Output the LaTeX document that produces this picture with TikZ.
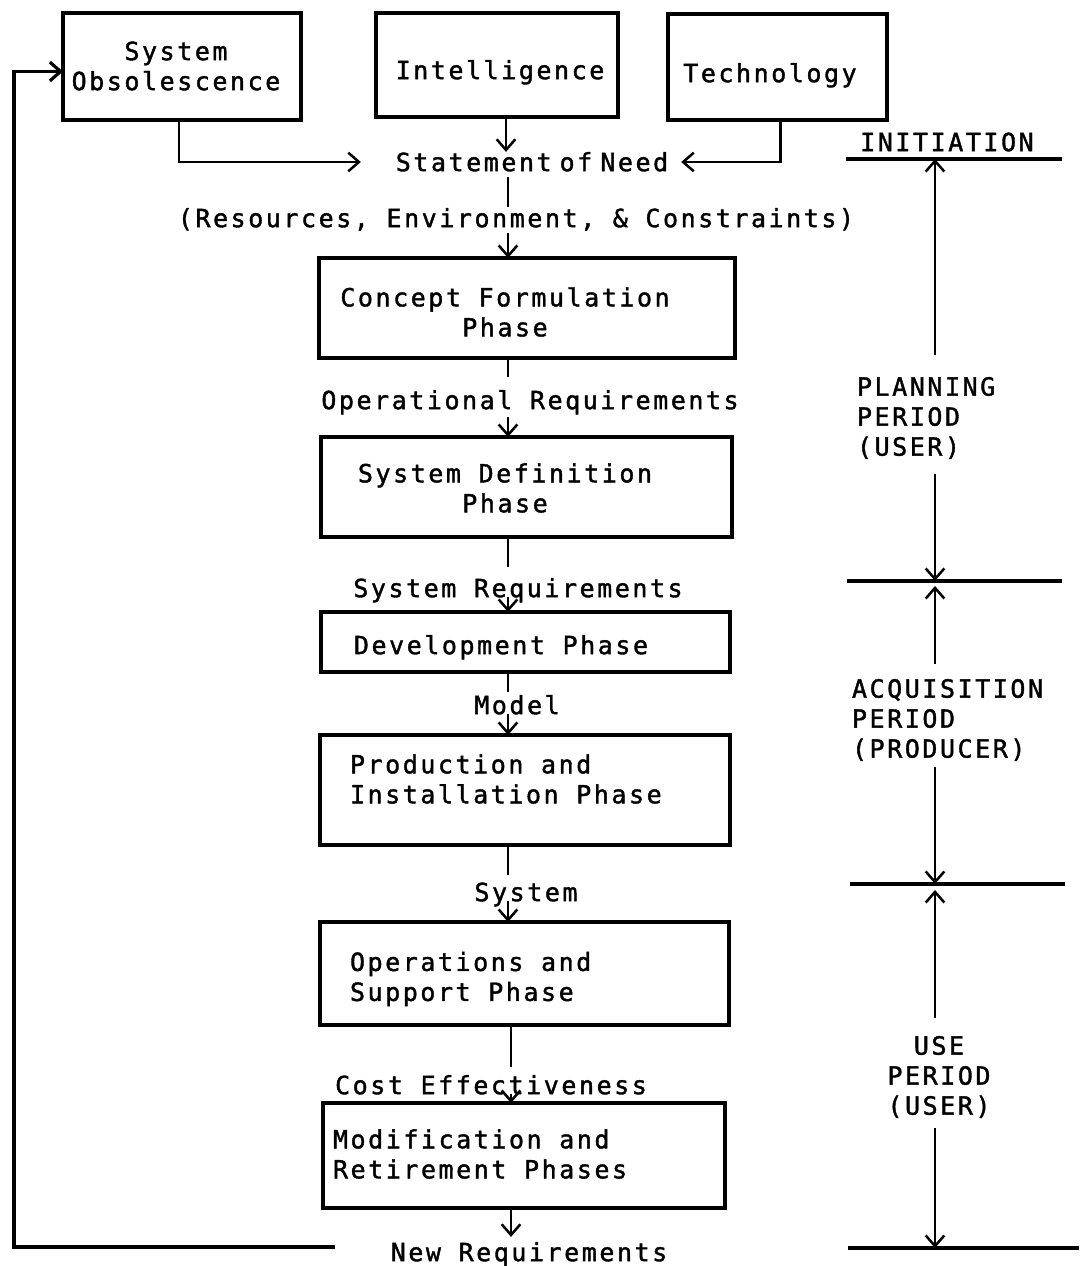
\documentclass[tikz,border=0pt]{standalone}
\usepackage{fontspec}
\newfontfamily\tw[LetterSpace=10.2,FakeBold=1.5]{DejaVu Sans Mono}
\usetikzlibrary{arrows.meta,calc}
\begin{document}
\begin{tikzpicture}[x=0.75pt,y=-0.75pt,
  every node/.style={inner sep=0pt, outer sep=0pt},
  lbl/.style={font=\tw\fontsize{18.75}{22.5}\selectfont},
  one/.style={lbl, text height=13.7pt, text depth=0pt},
  panel/.style={draw, line width=2.5pt, anchor=north west},
  psize/.style 2 args={minimum width=#1*0.75pt, minimum height=#2*0.75pt},
  wire/.style={line width=1.9pt},
  arr/.style={wire, -{Straight Barb[length=8pt,width=14pt]}},
  bar/.style={line width=2.4pt}]
\useasboundingbox (0,0) rectangle (1079,1266);

% sources of the need
\node[panel, psize={238}{107}] (obs) at (63,13) {};
\node[lbl, align=center] (obst) at (176,66) {System\\Obsolescence};
\node[panel, psize={242}{104}] (intel) at (376,13) {};
\node[one] (intt) at (500,70) {Intelligence};
\node[panel, psize={219}{106}] (tec) at (668,14) {};
\node[one] (tect) at (770,73) {Technology};

\node[one] (son) at (532,162) {Statement\kern6pt of\kern6pt Need};
\node[one] (res) at (516,218) {(Resources, Environment, \& Constraints)};

% phases
\node[panel, psize={416}{100}] (cf) at (319,258) {};
\node[lbl, align=center] (cft) at (505,312) {Concept Formulation\\Phase};
\node[one] (opr) at (530,400) {Operational Requirements};
\node[panel, psize={411}{100}] (sd) at (321,437) {};
\node[lbl, align=center] (sdt) at (505,488) {System Definition\\Phase};
\node[one] (sreq) at (518,588) {System Requirements};
\node[panel, psize={409}{60}] (dev) at (321,612) {};
\node[one] (devt) at (501,645) {Development Phase};
\node[one] (mdl) at (517,705) {Model};
\node[panel, psize={410}{110}] (prod) at (320,735) {};
\node[lbl, align=left, anchor=west] (prodt) at (350,779) {Production and\\Installation Phase};
\node[one] (sys) at (526,892) {System};
\node[panel, psize={409}{103}] (ops) at (320,922) {};
\node[lbl, align=left, anchor=west] (opst) at (350,979) {Operations and\\Support Phase};
\node[one] (cost) at (491,1085) {Cost Effectiveness};
\node[panel, psize={402}{105}] (mod) at (323,1103) {};
\node[lbl, align=left, anchor=west] (modt) at (333,1154) {Modification and\\Retirement Phases};
\node[one] (newr) at (529,1252) {New Requirements};

% inputs to the statement of need
\coordinate (col) at (508,0);
\coordinate (colb) at (511,0);
\coordinate (intx) at (506,0);
\draw[arr] ($(obs.south)+(-3,0)$) |- ($(son.west)+(-35,0)$);
\draw[arr] ($(tec.south)+(3,0)$) |- ($(son.east)+(13,0)$);
\draw[arr] (intel.south -| intx) -- ($(son.north -| intx)+(0,-1)$);

% flow down the phases
\draw[wire] ($(son.south -| col)+(0,6)$) -- ++(0,30);
\draw[arr] ($(res.south -| col)+(0,6)$) -- (cf.north -| col);
\draw[wire] (cf.south -| col) -- ++(0,19);
\draw[arr] ($(opr.south -| col)+(0,8)$) -- (sd.north -| col);
\draw[wire] (sd.south -| col) -- ++(0,30);
\draw[arr] (sreq.south -| col) -- (dev.north -| col);
\draw[wire] (dev.south -| col) -- ++(0,20);
\draw[arr] (mdl.south -| col) -- (prod.north -| col);
\draw[wire] (prod.south -| col) -- ++(0,30);
\draw[arr] (sys.south -| col) -- (ops.north -| col);
\draw[wire] (ops.south -| colb) -- ++(0,42);
\draw[arr] (cost.south -| colb) -- (mod.north -| colb);
\draw[arr] (mod.south -| colb) -- ($(newr.north -| colb)+(0,-6)$);

% feedback loop to obsolescence
\coordinate (back) at (335,1247);
\draw[arr, line width=2.4pt] (back) -- ++(-321,0) |- ($(obs.west)+(0,5)$);

% period scale
\coordinate (tx) at (935,0);
\coordinate (t0a) at (846,159);  \coordinate (t0b) at (1062,159);
\coordinate (t1a) at (847,581);  \coordinate (t1b) at (1062,581);
\coordinate (t2a) at (850,884);  \coordinate (t2b) at (1065,884);
\coordinate (t3a) at (848,1248); \coordinate (t3b) at (1079,1248);
\draw[bar] (t0a) -- (t0b);
\draw[bar] (t1a) -- (t1b);
\draw[bar] (t2a) -- (t2b);
\draw[bar] (t3a) -- (t3b);

\node[one] (init) at (947,142) {INITIATION};
\node[lbl, align=left, anchor=west] (plan) at (857,418) {PLANNING\\PERIOD\\(USER)};
\node[lbl, align=left, anchor=west] (acq) at (852,720) {ACQUISITION\\PERIOD\\(PRODUCER)};
\node[lbl, align=center] (use) at (939,1077) {USE\\PERIOD\\(USER)};

\draw[arr] ($(plan.north -| tx)+(0,-22)$) -- (t0a -| tx);
\draw[arr] ($(plan.south -| tx)+(0,15)$) -- (t1a -| tx);
\draw[arr] ($(acq.north -| tx)+(0,-15)$) -- ($(t1a -| tx)+(0,5)$);
\draw[arr] ($(acq.south -| tx)+(0,6)$) -- (t2a -| tx);
\draw[arr] ($(use.north -| tx)+(0,-18)$) -- ($(t2a -| tx)+(0,6)$);
\draw[arr] ($(use.south -| tx)+(0,10)$) -- (t3a -| tx);
\end{tikzpicture}
\end{document}
